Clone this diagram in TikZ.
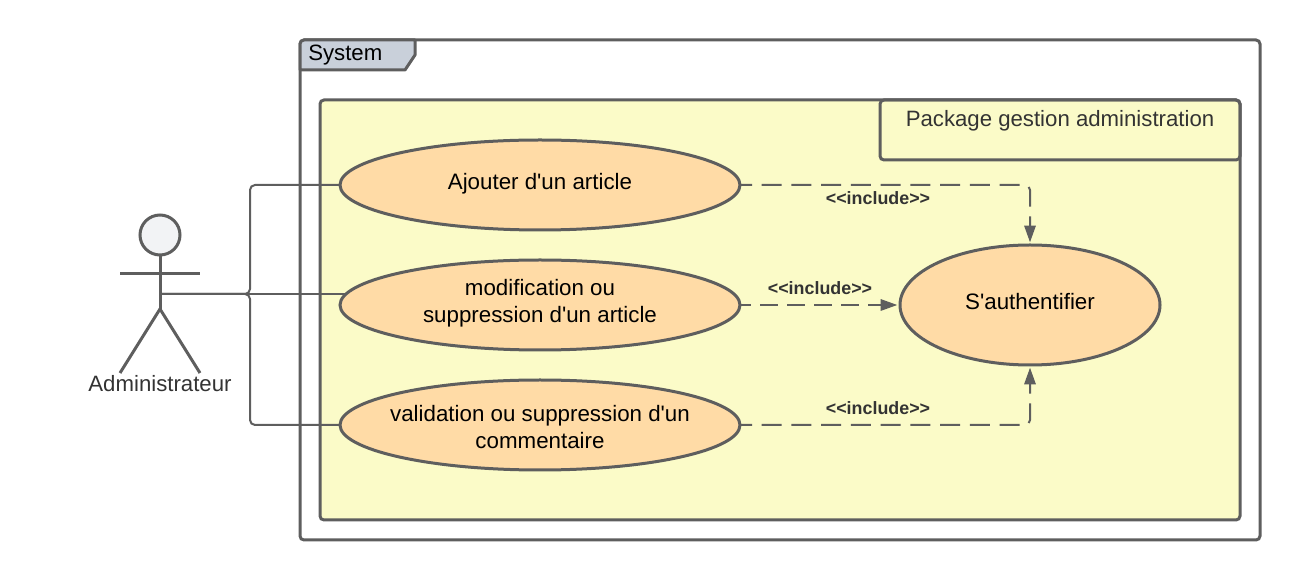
\documentclass[tikz,border=0pt]{standalone}
\usepackage{fontspec}
\newfontfamily\lib{Liberation Sans}
\setmainfont{Liberation Sans}
\usetikzlibrary{shapes.geometric,arrows.meta,calc}
\definecolor{linec}{HTML}{5E5E5E}
\definecolor{yellowc}{HTML}{FBFBC8}
\definecolor{orangec}{HTML}{FFDBA6}
\definecolor{tabc}{HTML}{C9D0DA}
\definecolor{headc}{HTML}{F2F3F5}
\definecolor{labelc}{HTML}{333333}
\newcommand{\stacked}[3]{\raisebox{#1}[0pt][0pt]{\makebox[0pt][c]{\begin{tabular}{@{}c@{}}#2\\#3\end{tabular}}}}
\newcommand{\single}[2]{\raisebox{#1}[0pt][0pt]{#2}}
\tikzset{
  frame/.style={draw=linec,line width=2.25pt,rounded corners=3pt,inner sep=0pt,outer sep=0pt,anchor=north west},
  usecase/.style={ellipse,draw=linec,fill=orangec,line width=2.25pt,inner sep=0pt,outer sep=0pt,align=center,text=black,font=\lib\fontsize{16.75}{20.25}\selectfont},
  txt/.style={inner sep=0pt,font=\lib\fontsize{16.65}{20.25}\selectfont},
  inc/.style={inner sep=0pt,text=labelc,font=\lib\bfseries\fontsize{13.4}{15}\selectfont},
  assoc/.style={draw=linec,line width=1.5pt,rounded corners=3.75pt},
  dep/.style={draw=linec,line width=1.5pt,rounded corners=3.75pt,-{Triangle[length=12.5pt,width=8.5pt]},shorten >=2pt},
  actorline/.style={draw=linec,line width=2.25pt}
}
\begin{document}
\begin{tikzpicture}[x=0.75pt,y=-0.75pt]
\useasboundingbox (0,0) rectangle (1300,580);
% frames
\node[frame,fill=white,minimum width=720pt,minimum height=375pt] (system) at (300,40) {};
\draw[draw=linec,fill=tabc,line width=2.25pt,line join=round] (300,70) [rounded corners=3pt] -- (300,40) [sharp corners] -- (415,40) -- (415,55) -- (405,70) -- cycle;
\node[txt,text=black,anchor=west] (systxt) at (308,55) {System};
\node[frame,fill=yellowc,minimum width=690pt,minimum height=315pt] (pkg) at (320,100) {};
\node[frame,minimum width=270pt,minimum height=45pt] (pkgbox) at (880,100) {};
\node[txt,text=labelc] (pkgtxt) at (1060,121) {Package gestion administration};
% use cases
\node[usecase,minimum width=300pt,minimum height=67.5pt] (e1) at (540,185) {\single{-3.75pt}{Ajouter d'un article}};
\node[usecase,minimum width=300pt,minimum height=67.5pt] (e2) at (540,305) {\stacked{-3.4pt}{modification ou}{suppression d'un article}};
\node[usecase,minimum width=300pt,minimum height=67.5pt] (e3) at (540,425) {\stacked{-7.85pt}{validation ou suppression d'un}{commentaire}};
\node[usecase,minimum width=195pt,minimum height=90pt] (auth) at (1030,305) {\single{-3.75pt}{S'authentifier}};
% actor
\node[circle,draw=linec,fill=headc,line width=2.25pt,minimum size=30pt,inner sep=0pt,outer sep=0pt] (head) at (160,235) {};
\coordinate (hip) at (160,309);
\coordinate (conn) at (160,294);
\coordinate (armL) at (120,274);
\coordinate (armR) at (200,274);
\coordinate (legL) at (120,373);
\coordinate (legR) at (200,373);
\draw[actorline] (head.south) -- (hip);
\draw[actorline] (armL) -- (armR);
\draw[actorline] (legL) -- (hip) -- (legR);
\node[txt,text=labelc] (admin) at (160,384) {Administrateur};
% associations
\draw[assoc] (e1.west) -- (250,185) -- (250,294) -- (conn);
\draw[assoc] (e3.west) -- (250,425) -- (250,294) -- (conn);
\draw[assoc,rounded corners=0pt] (conn) -- ($(conn -| e2.west)+(5,0)$);
% includes
\draw[dep,dash pattern=on 15pt off 7.3pt,dash phase=6pt] (e1.east) -- (1030,185) -- (auth.north);
\draw[dep,dash pattern=on 13.5pt off 6.75pt,dash phase=5.25pt] (e2.east) -- (auth.west);
\draw[dep,dash pattern=on 15pt off 7.3pt,dash phase=6pt] (e3.east) -- (1030,425) -- (auth.south);
\node[inc] (i1) at (878,198.5) {<{}<include>{}>};
\node[inc] (i2) at (820,288.5) {<{}<include>{}>};
\node[inc] (i3) at (878,408.5) {<{}<include>{}>};
\end{tikzpicture}
\end{document}
